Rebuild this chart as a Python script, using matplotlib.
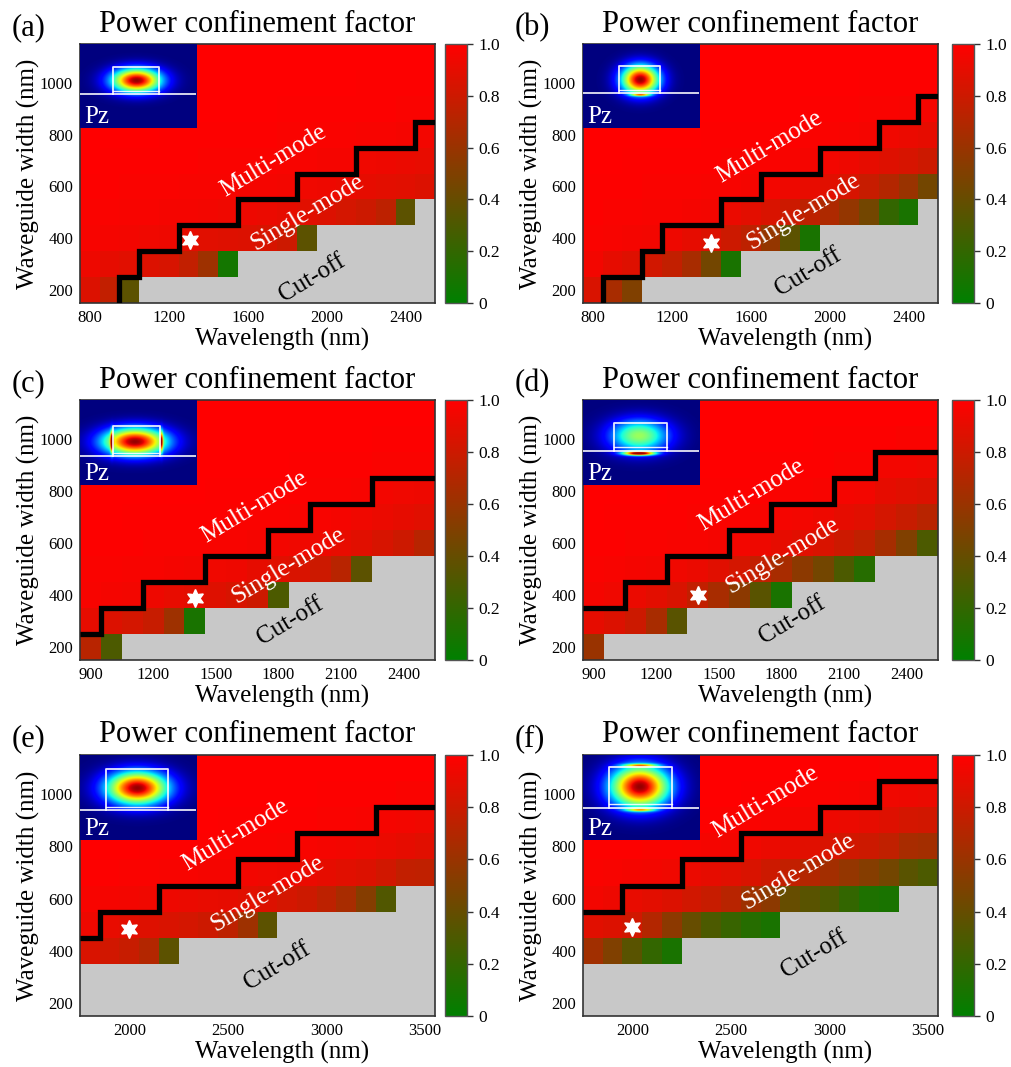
import numpy as np
import matplotlib
matplotlib.use('Agg')
import matplotlib.pyplot as plt
from matplotlib.colors import LinearSegmentedColormap

plt.rcParams['font.family'] = ['Liberation Serif', 'DejaVu Serif']

N = np.nan

# ---------------- data ----------------
widths = [200, 300, 400, 500, 600, 700, 800, 900, 1000, 1100]

# (a)
wl_a = [800, 900, 1000, 1100, 1200, 1300, 1400, 1500, 1600, 1700, 1800, 1900, 2000, 2100, 2200, 2300, 2400, 2500]
pcf_a = [
    [0.86, 0.76, 0.36, N, N, N, N, N, N, N, N, N, N, N, N, N, N, N],
    [0.93, 0.90, 0.88, 0.86, 0.84, 0.76, 0.62, 0.08, N, N, N, N, N, N, N, N, N, N],
    [0.97, 0.96, 0.95, 0.94, 0.93, 0.90, 0.88, 0.87, 0.86, 0.84, 0.80, 0.36, N, N, N, N, N, N],
    [0.98, 0.98, 0.97, 0.97, 0.96, 0.96, 0.95, 0.94, 0.93, 0.92, 0.90, 0.88, 0.86, 0.83, 0.80, 0.74, 0.36, N],
    [0.99, 0.99, 0.98, 0.98, 0.98, 0.97, 0.97, 0.97, 0.96, 0.96, 0.95, 0.94, 0.93, 0.92, 0.90, 0.89, 0.88, 0.86],
    [1.00, 0.99, 0.99, 0.99, 0.99, 0.99, 0.98, 0.98, 0.98, 0.98, 0.97, 0.97, 0.96, 0.96, 0.94, 0.93, 0.92, 0.91],
    [1.00, 1.00, 1.00, 1.00, 0.99, 0.99, 0.99, 0.99, 0.99, 0.99, 0.98, 0.98, 0.98, 0.98, 0.97, 0.97, 0.96, 0.95],
    [1.00, 1.00, 1.00, 1.00, 1.00, 1.00, 1.00, 1.00, 1.00, 1.00, 0.99, 0.99, 0.99, 0.99, 0.99, 0.99, 0.98, 0.98],
    [1.00, 1.00, 1.00, 1.00, 1.00, 1.00, 1.00, 1.00, 1.00, 1.00, 1.00, 1.00, 1.00, 1.00, 0.99, 0.99, 0.99, 0.99],
    [1.00, 1.00, 1.00, 1.00, 1.00, 1.00, 1.00, 1.00, 1.00, 1.00, 1.00, 1.00, 1.00, 1.00, 1.00, 1.00, 1.00, 1.00],
]
single_max_a = [N, N, 200, 300, 300, 400, 400, 400, 500, 500, 500, 600, 600, 600, 700, 700, 700, 800]
star_a = [1310, 395]
xticks_a = [800, 1200, 1600, 2000, 2400]

# (b)
wl_b = [800, 900, 1000, 1100, 1200, 1300, 1400, 1500, 1600, 1700, 1800, 1900, 2000, 2100, 2200, 2300, 2400, 2500]
pcf_b = [
    [0.85, 0.66, 0.50, N, N, N, N, N, N, N, N, N, N, N, N, N, N, N],
    [0.95, 0.90, 0.87, 0.82, 0.76, 0.66, 0.45, 0.10, N, N, N, N, N, N, N, N, N, N],
    [0.98, 0.97, 0.96, 0.95, 0.93, 0.90, 0.86, 0.80, 0.74, 0.58, 0.36, 0.10, N, N, N, N, N, N],
    [0.99, 0.98, 0.98, 0.97, 0.97, 0.96, 0.95, 0.92, 0.89, 0.85, 0.80, 0.74, 0.68, 0.58, 0.45, 0.20, 0.10, N],
    [0.99, 0.99, 0.99, 0.98, 0.98, 0.98, 0.97, 0.97, 0.96, 0.95, 0.93, 0.91, 0.88, 0.84, 0.78, 0.70, 0.60, 0.45],
    [1.00, 1.00, 0.99, 0.99, 0.99, 0.99, 0.99, 0.98, 0.98, 0.98, 0.97, 0.96, 0.95, 0.93, 0.90, 0.87, 0.84, 0.80],
    [1.00, 1.00, 1.00, 1.00, 1.00, 1.00, 0.99, 0.99, 0.99, 0.99, 0.99, 0.98, 0.98, 0.97, 0.96, 0.94, 0.92, 0.90],
    [1.00, 1.00, 1.00, 1.00, 1.00, 1.00, 1.00, 1.00, 1.00, 1.00, 1.00, 0.99, 0.99, 0.99, 0.98, 0.98, 0.97, 0.96],
    [1.00, 1.00, 1.00, 1.00, 1.00, 1.00, 1.00, 1.00, 1.00, 1.00, 1.00, 1.00, 1.00, 1.00, 0.99, 0.99, 0.99, 0.99],
    [1.00, 1.00, 1.00, 1.00, 1.00, 1.00, 1.00, 1.00, 1.00, 1.00, 1.00, 1.00, 1.00, 1.00, 1.00, 1.00, 1.00, 1.00],
]
single_max_b = [N, 200, 200, 300, 400, 400, 400, 500, 500, 600, 600, 600, 700, 700, 700, 800, 800, 900]
star_b = [1400, 380]
xticks_b = [800, 1200, 1600, 2000, 2400]

# (c)
wl_c = [900, 1000, 1100, 1200, 1300, 1400, 1500, 1600, 1700, 1800, 1900, 2000, 2100, 2200, 2300, 2400, 2500]
pcf_c = [
    [0.72, 0.30, N, N, N, N, N, N, N, N, N, N, N, N, N, N, N],
    [0.90, 0.86, 0.83, 0.78, 0.62, 0.10, N, N, N, N, N, N, N, N, N, N, N],
    [0.97, 0.96, 0.95, 0.93, 0.91, 0.89, 0.87, 0.84, 0.80, 0.30, N, N, N, N, N, N, N],
    [0.98, 0.98, 0.97, 0.97, 0.96, 0.95, 0.94, 0.93, 0.90, 0.88, 0.85, 0.80, 0.72, 0.36, N, N, N],
    [0.99, 0.99, 0.99, 0.98, 0.98, 0.98, 0.97, 0.97, 0.96, 0.95, 0.94, 0.93, 0.91, 0.88, 0.84, 0.80, 0.72],
    [1.00, 1.00, 0.99, 0.99, 0.99, 0.99, 0.99, 0.98, 0.98, 0.98, 0.97, 0.97, 0.96, 0.94, 0.92, 0.90, 0.88],
    [1.00, 1.00, 1.00, 1.00, 1.00, 1.00, 0.99, 0.99, 0.99, 0.99, 0.99, 0.98, 0.98, 0.97, 0.95, 0.94, 0.93],
    [1.00, 1.00, 1.00, 1.00, 1.00, 1.00, 1.00, 1.00, 1.00, 1.00, 0.99, 0.99, 0.99, 0.99, 0.98, 0.98, 0.98],
    [1.00, 1.00, 1.00, 1.00, 1.00, 1.00, 1.00, 1.00, 1.00, 1.00, 1.00, 1.00, 1.00, 1.00, 0.99, 0.99, 0.99],
    [1.00, 1.00, 1.00, 1.00, 1.00, 1.00, 1.00, 1.00, 1.00, 1.00, 1.00, 1.00, 1.00, 1.00, 1.00, 1.00, 1.00],
]
single_max_c = [200, 300, 300, 400, 400, 400, 500, 500, 500, 600, 600, 700, 700, 700, 800, 800, 800]
star_c = [1400, 390]
xticks_c = [900, 1200, 1500, 1800, 2100, 2400]

# (d)
wl_d = [900, 1000, 1100, 1200, 1300, 1400, 1500, 1600, 1700, 1800, 1900, 2000, 2100, 2200, 2300, 2400, 2500]
pcf_d = [
    [0.60, N, N, N, N, N, N, N, N, N, N, N, N, N, N, N, N],
    [0.90, 0.86, 0.80, 0.66, 0.35, N, N, N, N, N, N, N, N, N, N, N, N],
    [0.96, 0.94, 0.92, 0.89, 0.85, 0.76, 0.66, 0.55, 0.35, 0.10, N, N, N, N, N, N, N],
    [0.98, 0.97, 0.96, 0.95, 0.94, 0.92, 0.88, 0.83, 0.76, 0.66, 0.55, 0.45, 0.30, 0.15, N, N, N],
    [0.99, 0.99, 0.98, 0.98, 0.97, 0.97, 0.96, 0.95, 0.93, 0.90, 0.88, 0.85, 0.80, 0.75, 0.65, 0.50, 0.30],
    [1.00, 0.99, 0.99, 0.99, 0.99, 0.98, 0.98, 0.98, 0.97, 0.96, 0.95, 0.93, 0.90, 0.88, 0.83, 0.78, 0.72],
    [1.00, 1.00, 1.00, 1.00, 0.99, 0.99, 0.99, 0.99, 0.99, 0.98, 0.98, 0.97, 0.96, 0.95, 0.90, 0.88, 0.86],
    [1.00, 1.00, 1.00, 1.00, 1.00, 1.00, 1.00, 1.00, 0.99, 0.99, 0.99, 0.99, 0.98, 0.98, 0.95, 0.95, 0.94],
    [1.00, 1.00, 1.00, 1.00, 1.00, 1.00, 1.00, 1.00, 1.00, 1.00, 1.00, 0.99, 0.99, 0.99, 0.99, 0.98, 0.98],
    [1.00, 1.00, 1.00, 1.00, 1.00, 1.00, 1.00, 1.00, 1.00, 1.00, 1.00, 1.00, 1.00, 1.00, 1.00, 1.00, 1.00],
]
single_max_d = [300, 300, 400, 400, 500, 500, 500, 600, 600, 700, 700, 700, 800, 800, 900, 900, 900]
star_d = [1400, 400]
xticks_d = [900, 1200, 1500, 1800, 2100, 2400]

# (e)
wl_e = [1800, 1900, 2000, 2100, 2200, 2300, 2400, 2500, 2600, 2700, 2800, 2900, 3000, 3100, 3200, 3300, 3400, 3500]
pcf_e = [
    [N, N, N, N, N, N, N, N, N, N, N, N, N, N, N, N, N, N],
    [N, N, N, N, N, N, N, N, N, N, N, N, N, N, N, N, N, N],
    [0.85, 0.82, 0.78, 0.70, 0.36, N, N, N, N, N, N, N, N, N, N, N, N, N],
    [0.93, 0.91, 0.89, 0.87, 0.85, 0.83, 0.80, 0.74, 0.62, 0.36, N, N, N, N, N, N, N, N],
    [0.97, 0.96, 0.95, 0.94, 0.93, 0.92, 0.91, 0.90, 0.88, 0.86, 0.83, 0.80, 0.74, 0.66, 0.52, 0.32, N, N],
    [0.99, 0.99, 0.98, 0.98, 0.97, 0.97, 0.96, 0.96, 0.95, 0.94, 0.93, 0.92, 0.90, 0.88, 0.86, 0.82, 0.76, 0.75],
    [1.00, 1.00, 1.00, 0.99, 0.99, 0.99, 0.99, 0.98, 0.98, 0.98, 0.97, 0.97, 0.96, 0.95, 0.94, 0.92, 0.90, 0.88],
    [1.00, 1.00, 1.00, 1.00, 1.00, 1.00, 1.00, 0.99, 0.99, 0.99, 0.99, 0.99, 0.98, 0.98, 0.97, 0.96, 0.95, 0.94],
    [1.00, 1.00, 1.00, 1.00, 1.00, 1.00, 1.00, 1.00, 1.00, 1.00, 1.00, 1.00, 0.99, 0.99, 0.99, 0.99, 0.98, 0.98],
    [1.00, 1.00, 1.00, 1.00, 1.00, 1.00, 1.00, 1.00, 1.00, 1.00, 1.00, 1.00, 1.00, 1.00, 1.00, 1.00, 1.00, 1.00],
]
single_max_e = [400, 500, 500, 500, 600, 600, 600, 600, 700, 700, 700, 800, 800, 800, 800, 900, 900, 900]
star_e = [2000, 485]
xticks_e = [2000, 2500, 3000, 3500]

# (f)
wl_f = [1800, 1900, 2000, 2100, 2200, 2300, 2400, 2500, 2600, 2700, 2800, 2900, 3000, 3100, 3200, 3300, 3400, 3500]
pcf_f = [
    [N, N, N, N, N, N, N, N, N, N, N, N, N, N, N, N, N, N],
    [N, N, N, N, N, N, N, N, N, N, N, N, N, N, N, N, N, N],
    [0.63, 0.50, 0.35, 0.20, 0.10, N, N, N, N, N, N, N, N, N, N, N, N, N],
    [0.88, 0.86, 0.82, 0.70, 0.55, 0.40, 0.30, 0.22, 0.15, 0.10, N, N, N, N, N, N, N, N],
    [0.95, 0.93, 0.91, 0.89, 0.86, 0.82, 0.78, 0.72, 0.62, 0.55, 0.40, 0.35, 0.30, 0.20, 0.12, 0.10, N, N],
    [0.98, 0.97, 0.96, 0.95, 0.94, 0.92, 0.90, 0.88, 0.85, 0.80, 0.76, 0.70, 0.64, 0.58, 0.52, 0.45, 0.35, 0.30],
    [0.99, 0.99, 0.99, 0.98, 0.98, 0.97, 0.96, 0.95, 0.94, 0.92, 0.90, 0.88, 0.85, 0.82, 0.80, 0.75, 0.66, 0.64],
    [1.00, 1.00, 1.00, 1.00, 0.99, 0.99, 0.99, 0.98, 0.98, 0.97, 0.96, 0.95, 0.93, 0.92, 0.90, 0.87, 0.83, 0.82],
    [1.00, 1.00, 1.00, 1.00, 1.00, 1.00, 1.00, 1.00, 0.99, 0.99, 0.99, 0.98, 0.98, 0.97, 0.96, 0.94, 0.93, 0.92],
    [1.00, 1.00, 1.00, 1.00, 1.00, 1.00, 1.00, 1.00, 1.00, 1.00, 1.00, 1.00, 0.99, 0.99, 0.99, 0.98, 0.98, 0.98],
]
single_max_f = [500, 500, 600, 600, 600, 700, 700, 700, 800, 800, 800, 800, 900, 900, 900, 1000, 1000, 1000]
star_f = [2000, 490]
xticks_f = [2000, 2500, 3000, 3500]

letters = ['(a)', '(b)', '(c)', '(d)', '(e)', '(f)']
title_text = 'Power confinement factor'
xlabel_text = 'Wavelength (nm)'
ylabel_text = 'Waveguide width (nm)'
cbar_ticks = [0, 0.2, 0.4, 0.6, 0.8, 1.0]
cbar_labels = ['0', '0.2', '0.4', '0.6', '0.8', '1.0']

# ---------------- styles / positions ----------------
W, H = 1011, 1067
fig = plt.figure(figsize=(W / 100, H / 100), dpi=100)

cmap = LinearSegmentedColormap.from_list('gr', [(0.0, 0.5, 0.0), (1.0, 0.0, 0.0)])
cmap.set_bad('#c8c8c8')

col_x = [80, 583]
cbar_x = [445, 952]
row_y = [(44, 303), (400, 660), (755, 1016)]
ax_w = 355
cb_w = 22

# text label positions (data coords) per panel
text_pos = [
    [(1733, 700), (1902, 498), (1928, 246)],
    [(1697, 752), (1867, 502), (1892, 270)],
    [(1687, 738), (1847, 512), (1855, 298)],
    [(1655, 786), (1805, 550), (1853, 302)],
    [(2537, 843), (2699, 618), (2750, 340)],
    [(2675, 968), (2841, 703), (2924, 388)],
]

# inset mode-profile illustration parameters (inset fraction coords)
inset_par = [
    dict(rect=(0.28, 0.684, 0.412, 0.733), line=0.412, slab=0.443,
         lobes=[(0.483, 0.56, 0.21, 0.14, 1.0)]),
    dict(rect=(0.31, 0.666, 0.416, 0.74), line=0.416, slab=0.45,
         lobes=[(0.49, 0.57, 0.16, 0.17, 1.0), (0.49, 0.39, 0.08, 0.015, 0.55)]),
    dict(rect=(0.28, 0.69, 0.345, 0.69), line=0.345, slab=0.375,
         lobes=[(0.47, 0.51, 0.27, 0.16, 1.0), (0.272, 0.51, 0.012, 0.12, 0.8),
                (0.698, 0.51, 0.012, 0.12, 0.6)]),
    dict(rect=(0.27, 0.72, 0.40, 0.73), line=0.40, slab=0.45,
         lobes=[(0.48, 0.58, 0.25, 0.19, 0.55), (0.48, 0.372, 0.13, 0.025, 1.0)]),
    dict(rect=(0.227, 0.76, 0.355, 0.83), line=0.355, slab=0.385,
         lobes=[(0.49, 0.605, 0.26, 0.19, 1.0)]),
    dict(rect=(0.226, 0.768, 0.375, 0.864), line=0.375, slab=0.42,
         lobes=[(0.487, 0.62, 0.25, 0.24, 1.0), (0.49, 0.868, 0.14, 0.02, 0.5),
                (0.49, 0.35, 0.12, 0.02, 0.5)]),
]

panels = [
    (wl_a, pcf_a, single_max_a, star_a, xticks_a),
    (wl_b, pcf_b, single_max_b, star_b, xticks_b),
    (wl_c, pcf_c, single_max_c, star_c, xticks_c),
    (wl_d, pcf_d, single_max_d, star_d, xticks_d),
    (wl_e, pcf_e, single_max_e, star_e, xticks_e),
    (wl_f, pcf_f, single_max_f, star_f, xticks_f),
]

gx, gy = np.meshgrid(np.linspace(0, 1, 300), np.linspace(0, 1, 240))

for k, (wl, pcf, smax, star, xt) in enumerate(panels):
    r, c = divmod(k, 2)
    top, bot = row_y[r]
    ax = fig.add_axes([col_x[c] / W, 1 - bot / H, ax_w / W, (bot - top) / H])
    cax = fig.add_axes([cbar_x[c] / W, 1 - bot / H, cb_w / W, (bot - top) / H])

    wl = np.asarray(wl, float)
    wd = np.asarray(widths, float)
    xe = np.concatenate([wl - 50, [wl[-1] + 50]])
    ye = np.concatenate([wd - 50, [wd[-1] + 50]])
    Z = np.ma.masked_invalid(np.asarray(pcf, float))
    mesh = ax.pcolormesh(xe, ye, Z, cmap=cmap, vmin=0, vmax=1, shading='flat',
                         edgecolors='none', antialiased=False)

    # single-mode / multi-mode boundary
    sm = np.asarray(smax, float)
    valid = ~np.isnan(sm)
    i0 = int(np.argmax(valid))
    xs, ys = [], []
    if i0 > 0:
        xs.append(xe[i0]); ys.append(ye[0])
    for i in range(i0, len(wl)):
        yb = sm[i] + 50
        xs += [xe[i], xe[i + 1]]
        ys += [yb, yb]
    ax.plot(xs, ys, color='black', lw=3.8, solid_joinstyle='miter',
            solid_capstyle='butt', zorder=3)

    ax.plot(star[0], star[1], marker=(6, 1, 0), color='white', mec='white',
            ms=13, zorder=4)

    tp = text_pos[k]
    ax.text(tp[0][0], tp[0][1], 'Multi-mode', color='white', fontsize=18,
            rotation=31, ha='center', va='center', rotation_mode='anchor', zorder=5)
    ax.text(tp[1][0], tp[1][1], 'Single-mode', color='white', fontsize=18,
            rotation=31, ha='center', va='center', rotation_mode='anchor', zorder=5)
    ax.text(tp[2][0], tp[2][1], 'Cut-off', color='black', fontsize=18,
            rotation=31, ha='center', va='center', rotation_mode='anchor', zorder=5)

    ax.set_xlim(xe[0], xe[-1])
    ax.set_ylim(ye[0], ye[-1])
    ax.set_xticks(xt)
    ax.set_yticks([200, 400, 600, 800, 1000])
    ax.tick_params(length=0, labelsize=12, pad=5)
    for s in ax.spines.values():
        s.set_color('#333333'); s.set_linewidth(1.2)
    ax.set_title(title_text, fontsize=22, pad=9)
    ax.set_xlabel(xlabel_text, fontsize=18)
    ax.xaxis.set_label_coords(0.57, -0.095)
    ax.set_ylabel(ylabel_text, fontsize=18)
    ax.yaxis.set_label_coords(-0.113, 0.5)
    ax.annotate(letters[k], xy=(0, 1), xycoords='axes fraction', xytext=(-49, 6.5),
                textcoords='offset points', fontsize=22, ha='left', va='baseline')

    # inset: mode profile illustration
    iax = ax.inset_axes([0.0, 0.674, 0.327, 0.326])
    p = inset_par[k]
    field = np.zeros_like(gx)
    for (cx, cy, sx, sy, amp) in p['lobes']:
        field += amp * np.exp(-((gx - cx) / sx) ** 2 - ((gy - cy) / sy) ** 2)
    iax.imshow(np.clip(field, 0, 1), cmap='jet', vmin=0, vmax=1.02, origin='lower',
               extent=[0, 1, 0, 1], aspect='auto', interpolation='bilinear')
    x0, x1, y0, y1 = p['rect']
    iax.plot([x0, x0, x1, x1], [y0, y1, y1, y0], color='white', lw=1.3, alpha=0.9)
    iax.plot([x0, x1], [p['slab'], p['slab']], color='white', lw=1.0, alpha=0.9)
    iax.plot([0, 1], [p['line'], p['line']], color='white', lw=1.3, alpha=0.9)
    iax.text(0.04, 0.06, 'Pz', color='white', fontsize=18, transform=iax.transAxes)
    iax.set_xlim(0, 1); iax.set_ylim(0, 1)
    iax.set_xticks([]); iax.set_yticks([])
    for s in iax.spines.values():
        s.set_visible(False)

    cb = fig.colorbar(mesh, cax=cax, ticks=cbar_ticks)
    cb.ax.set_yticklabels(cbar_labels)
    cb.ax.tick_params(length=4, width=1, labelsize=12.5, color='#333333', pad=4)
    cb.outline.set_edgecolor('#555555')
    cb.outline.set_linewidth(1.0)

fig.savefig('out.png', dpi=100)
